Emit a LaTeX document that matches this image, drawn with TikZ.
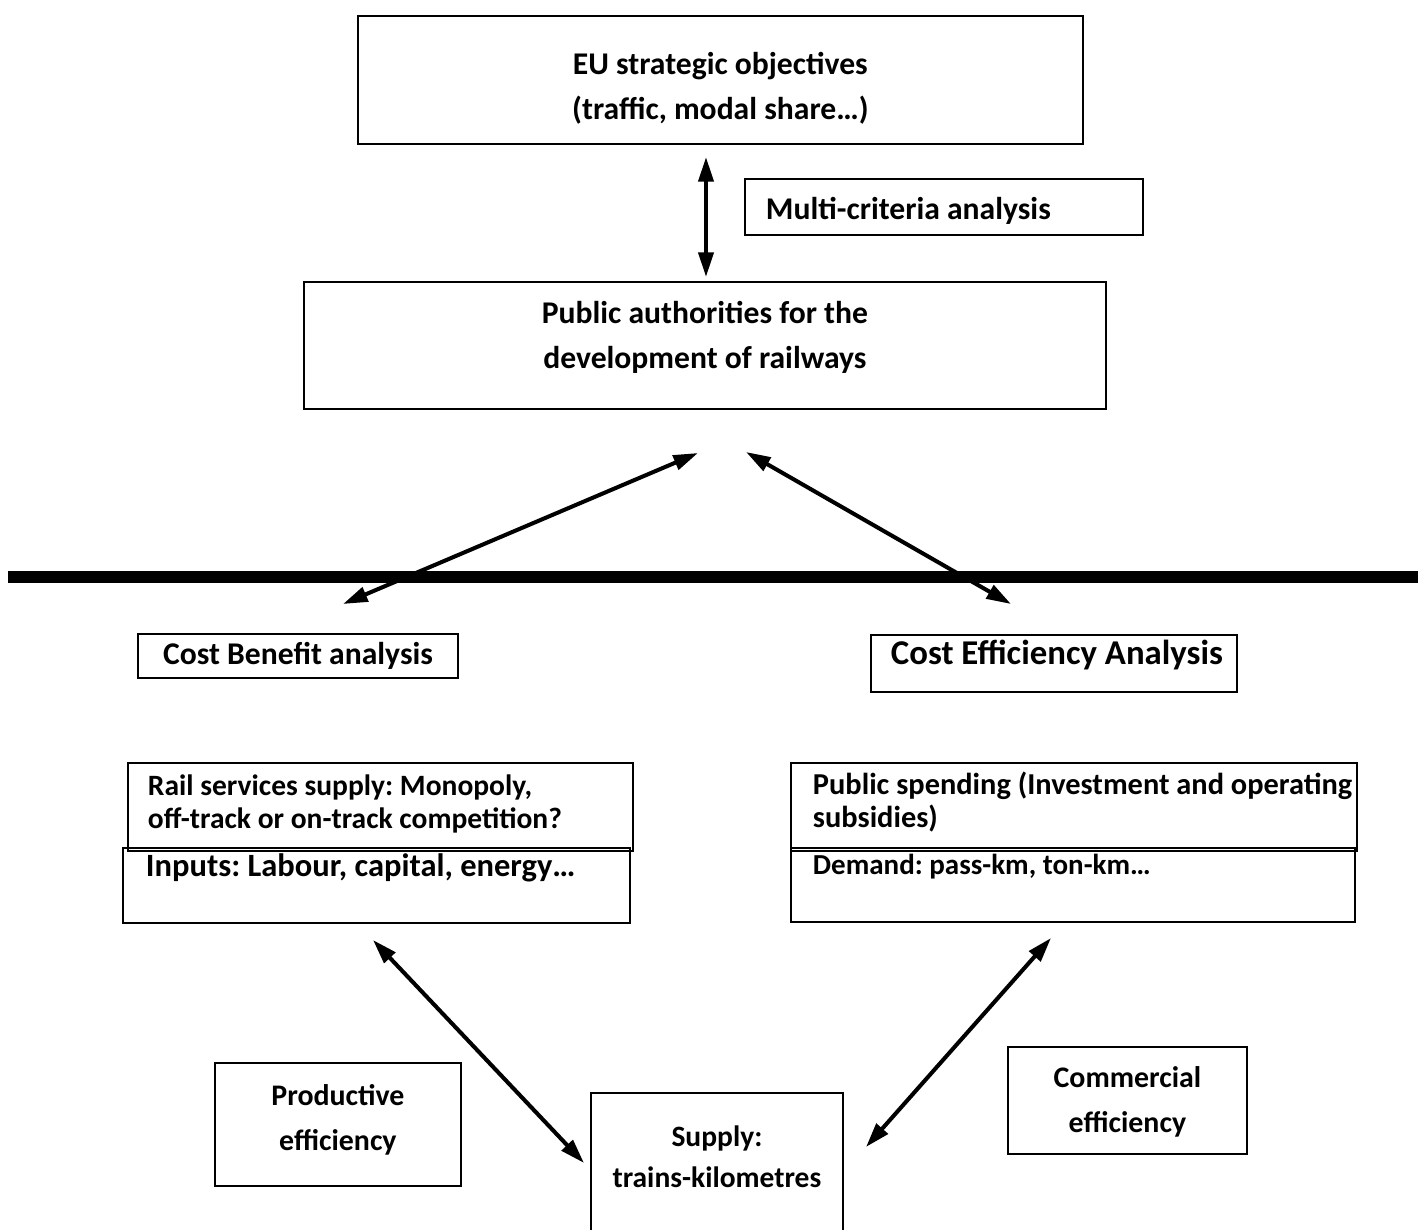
\documentclass[tikz,border=0pt]{standalone}
\usepackage{fontspec}
\setmainfont{Carlito}
\frenchspacing
\usetikzlibrary{arrows.meta}
\tikzset{
  linkarrow/.style={{Triangle[length=14pt,width=8.5pt]}-{Triangle[length=14pt,width=8.5pt]}, line width=2.3pt},
  framebox/.style={draw, line width=1.1pt, inner sep=0pt, anchor=north west, align=flush center, font=\bfseries\fontsize{18}{25.5}\selectfont},
  leftbox/.style={framebox, align=flush left},
  smalltext/.style={font=\bfseries\fontsize{16.8}{18.7}\selectfont}
}
\begin{document}
\begin{tikzpicture}[x=0.02cm, y=-0.02cm]
  \useasboundingbox (0,0) rectangle (1426,1230);
  \node[framebox, text width=14.5cm, text height=1.17cm, text depth=1.39cm] (eu) at (357,15) {EU strategic objectives\\(traffic, modal share…)};
  \node[leftbox, inner xsep=0.42cm, text width=7.12cm, text height=0.82cm, text depth=0.3cm] (mca) at (744,178) {Multi-criteria analysis};
  \node[framebox, text width=16.04cm, text height=0.84cm, text depth=1.7cm] (pa) at (303,281) {Public authorities for the\\development of railways};
  \node[framebox, anchor=center, minimum width=6.4cm, minimum height=0.88cm] (cba) at (298,656) {Cost Benefit analysis};
  \node[leftbox, font=\bfseries\fontsize{19.8}{25.5}\selectfont, inner xsep=0.4cm, text width=6.52cm, text height=0.6cm, text depth=0.54cm] (cea) at (870,634) {\mbox{Cost Efficiency Analysis}};
  \node[leftbox, smalltext, inner xsep=0.4cm, text width=9.3cm, text height=0.66cm, text depth=1.1cm] (rss) at (127,762) {Rail services supply: Monopoly,\\off-track or on-track competition?};
  \node[leftbox, font=\bfseries\fontsize{18.5}{25.5}\selectfont, inner xsep=0.46cm, text width=9.22cm, text height=0.58cm, text depth=0.92cm] (inp) at (122,847) {Inputs: Labour, capital, energy…};
  \node[leftbox, font=\bfseries\fontsize{17.3}{18.7}\selectfont, inner xsep=0.44cm, text width=10.44cm, text height=0.64cm, text depth=1.12cm] (psp) at (790,762) {\mbox{Public spending (Investment and operating}\\subsidies)};
  \node[leftbox, font=\bfseries\fontsize{16.5}{25.5}\selectfont, inner xsep=0.44cm, text width=10.4cm, text height=0.54cm, text depth=0.94cm] (dem) at (790,847) {Demand: pass-km, ton-km…};
  \node[framebox, font=\bfseries\fontsize{17}{25.5}\selectfont, text width=4.92cm, text height=0.86cm, text depth=1.6cm] (pe) at (214,1062) {Productive\\efficiency};
  \node[framebox, font=\bfseries\fontsize{16.8}{23}\selectfont, text width=5.04cm, text height=1.08cm, text depth=1.72cm] (sup) at (590,1092) {Supply:\\trains-kilometres};
  \node[framebox, font=\bfseries\fontsize{17}{25.5}\selectfont, text width=4.78cm, text height=0.82cm, text depth=1.32cm] (ce) at (1007,1046) {Commercial\\efficiency};
  \coordinate (v1) at (706,157);
  \coordinate (v2) at (706,277);
  \coordinate (l1) at (698,453);
  \coordinate (l2) at (343,604);
  \coordinate (r1) at (746,452);
  \coordinate (r2) at (1011,604);
  \coordinate (bl) at (8,577);
  \coordinate (br) at (1418,577);
  \coordinate (l3) at (373,940);
  \coordinate (l4) at (584,1163);
  \coordinate (r3) at (1051,938);
  \coordinate (r4) at (866,1147);
  \draw[line width=6.8pt] (bl) -- (br);
  \draw[linkarrow] (v1) -- (v2);
  \draw[linkarrow] (l1) -- (l2);
  \draw[linkarrow] (r1) -- (r2);
  \draw[linkarrow] (l3) -- (l4);
  \draw[linkarrow] (r3) -- (r4);
\end{tikzpicture}
\end{document}
